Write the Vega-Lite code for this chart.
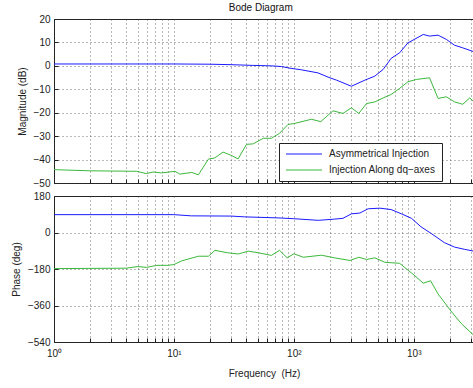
{
  "$schema": "https://vega.github.io/schema/vega-lite/v6.json",
  "padding": {"left": 10, "top": 2, "right": 0, "bottom": 0},
  "background": "white",
  "title": {"text": "Bode Diagram", "fontSize": 10, "fontWeight": "normal", "font": "Liberation Sans", "color": "#111", "anchor": "middle", "offset": 1, "dx": 18},
  "spacing": 1,
  "datasets": {
    "mag": [
      {"f": 1, "v": 0.8, "s": "Asymmetrical Injection"},
      {"f": 10, "v": 0.8, "s": "Asymmetrical Injection"},
      {"f": 20, "v": 0.7, "s": "Asymmetrical Injection"},
      {"f": 30, "v": 0.5, "s": "Asymmetrical Injection"},
      {"f": 45, "v": 0.2, "s": "Asymmetrical Injection"},
      {"f": 65, "v": 0, "s": "Asymmetrical Injection"},
      {"f": 79, "v": -0.3, "s": "Asymmetrical Injection"},
      {"f": 93, "v": -1.0, "s": "Asymmetrical Injection"},
      {"f": 116, "v": -1.7, "s": "Asymmetrical Injection"},
      {"f": 159, "v": -3.0, "s": "Asymmetrical Injection"},
      {"f": 193, "v": -4.8, "s": "Asymmetrical Injection"},
      {"f": 227, "v": -6.1, "s": "Asymmetrical Injection"},
      {"f": 302, "v": -8.7, "s": "Asymmetrical Injection"},
      {"f": 391, "v": -6.1, "s": "Asymmetrical Injection"},
      {"f": 473, "v": -4.4, "s": "Asymmetrical Injection"},
      {"f": 556, "v": -1.5, "s": "Asymmetrical Injection"},
      {"f": 648, "v": 3.2, "s": "Asymmetrical Injection"},
      {"f": 763, "v": 5.6, "s": "Asymmetrical Injection"},
      {"f": 894, "v": 9.8, "s": "Asymmetrical Injection"},
      {"f": 1200, "v": 13.4, "s": "Asymmetrical Injection"},
      {"f": 1354, "v": 12.7, "s": "Asymmetrical Injection"},
      {"f": 1595, "v": 13.1, "s": "Asymmetrical Injection"},
      {"f": 1870, "v": 11.3, "s": "Asymmetrical Injection"},
      {"f": 2190, "v": 8.8, "s": "Asymmetrical Injection"},
      {"f": 2560, "v": 7.7, "s": "Asymmetrical Injection"},
      {"f": 3180, "v": 6.0, "s": "Asymmetrical Injection"},
      {"f": 1, "v": -44.3, "s": "Injection Along dq−axes"},
      {"f": 2, "v": -44.8, "s": "Injection Along dq−axes"},
      {"f": 4.9, "v": -45.0, "s": "Injection Along dq−axes"},
      {"f": 5.9, "v": -46.0, "s": "Injection Along dq−axes"},
      {"f": 6.7, "v": -45.3, "s": "Injection Along dq−axes"},
      {"f": 7.9, "v": -45.7, "s": "Injection Along dq−axes"},
      {"f": 10.2, "v": -45.0, "s": "Injection Along dq−axes"},
      {"f": 11.2, "v": -46.2, "s": "Injection Along dq−axes"},
      {"f": 14.1, "v": -45.5, "s": "Injection Along dq−axes"},
      {"f": 16, "v": -46.5, "s": "Injection Along dq−axes"},
      {"f": 19.4, "v": -39.8, "s": "Injection Along dq−axes"},
      {"f": 21.9, "v": -39.3, "s": "Injection Along dq−axes"},
      {"f": 25.7, "v": -36.8, "s": "Injection Along dq−axes"},
      {"f": 30.3, "v": -38.3, "s": "Injection Along dq−axes"},
      {"f": 34.3, "v": -39.7, "s": "Injection Along dq−axes"},
      {"f": 40.3, "v": -33.5, "s": "Injection Along dq−axes"},
      {"f": 45.8, "v": -33.3, "s": "Injection Along dq−axes"},
      {"f": 55.6, "v": -30.9, "s": "Injection Along dq−axes"},
      {"f": 65, "v": -30.9, "s": "Injection Along dq−axes"},
      {"f": 76, "v": -28.8, "s": "Injection Along dq−axes"},
      {"f": 89.5, "v": -25.0, "s": "Injection Along dq−axes"},
      {"f": 101, "v": -24.6, "s": "Injection Along dq−axes"},
      {"f": 140, "v": -22.8, "s": "Injection Along dq−axes"},
      {"f": 168, "v": -23.8, "s": "Injection Along dq−axes"},
      {"f": 212, "v": -19.2, "s": "Injection Along dq−axes"},
      {"f": 257, "v": -20.3, "s": "Injection Along dq−axes"},
      {"f": 302, "v": -17.9, "s": "Injection Along dq−axes"},
      {"f": 348, "v": -20.3, "s": "Injection Along dq−axes"},
      {"f": 404, "v": -16.1, "s": "Injection Along dq−axes"},
      {"f": 473, "v": -15.4, "s": "Injection Along dq−axes"},
      {"f": 556, "v": -13.7, "s": "Injection Along dq−axes"},
      {"f": 648, "v": -12.2, "s": "Injection Along dq−axes"},
      {"f": 763, "v": -9.6, "s": "Injection Along dq−axes"},
      {"f": 894, "v": -6.8, "s": "Injection Along dq−axes"},
      {"f": 1050, "v": -5.8, "s": "Injection Along dq−axes"},
      {"f": 1354, "v": -5.1, "s": "Injection Along dq−axes"},
      {"f": 1595, "v": -13.9, "s": "Injection Along dq−axes"},
      {"f": 1870, "v": -13.2, "s": "Injection Along dq−axes"},
      {"f": 2190, "v": -15.4, "s": "Injection Along dq−axes"},
      {"f": 2560, "v": -16.4, "s": "Injection Along dq−axes"},
      {"f": 2930, "v": -13.7, "s": "Injection Along dq−axes"},
      {"f": 3180, "v": -15.4, "s": "Injection Along dq−axes"}
    ],
    "ph": [
      {"f": 1, "v": 88, "s": "Asymmetrical Injection"},
      {"f": 10, "v": 88, "s": "Asymmetrical Injection"},
      {"f": 14, "v": 82, "s": "Asymmetrical Injection"},
      {"f": 30, "v": 81, "s": "Asymmetrical Injection"},
      {"f": 39, "v": 77, "s": "Asymmetrical Injection"},
      {"f": 74, "v": 72, "s": "Asymmetrical Injection"},
      {"f": 100, "v": 68, "s": "Asymmetrical Injection"},
      {"f": 160, "v": 60, "s": "Asymmetrical Injection"},
      {"f": 219, "v": 66, "s": "Asymmetrical Injection"},
      {"f": 257, "v": 70, "s": "Asymmetrical Injection"},
      {"f": 302, "v": 92, "s": "Asymmetrical Injection"},
      {"f": 355, "v": 96, "s": "Asymmetrical Injection"},
      {"f": 417, "v": 117, "s": "Asymmetrical Injection"},
      {"f": 523, "v": 120, "s": "Asymmetrical Injection"},
      {"f": 648, "v": 113, "s": "Asymmetrical Injection"},
      {"f": 790, "v": 92, "s": "Asymmetrical Injection"},
      {"f": 957, "v": 70, "s": "Asymmetrical Injection"},
      {"f": 1150, "v": 28, "s": "Asymmetrical Injection"},
      {"f": 1400, "v": -5, "s": "Asymmetrical Injection"},
      {"f": 1800, "v": -50, "s": "Asymmetrical Injection"},
      {"f": 2190, "v": -72, "s": "Asymmetrical Injection"},
      {"f": 2650, "v": -83, "s": "Asymmetrical Injection"},
      {"f": 3180, "v": -92, "s": "Asymmetrical Injection"},
      {"f": 1, "v": -178, "s": "Injection Along dq−axes"},
      {"f": 4, "v": -176, "s": "Injection Along dq−axes"},
      {"f": 5, "v": -168, "s": "Injection Along dq−axes"},
      {"f": 5.9, "v": -172, "s": "Injection Along dq−axes"},
      {"f": 7.2, "v": -162, "s": "Injection Along dq−axes"},
      {"f": 8.9, "v": -162, "s": "Injection Along dq−axes"},
      {"f": 10, "v": -158, "s": "Injection Along dq−axes"},
      {"f": 11.6, "v": -140, "s": "Injection Along dq−axes"},
      {"f": 16, "v": -117, "s": "Injection Along dq−axes"},
      {"f": 19.4, "v": -117, "s": "Injection Along dq−axes"},
      {"f": 22, "v": -88, "s": "Injection Along dq−axes"},
      {"f": 28, "v": -100, "s": "Injection Along dq−axes"},
      {"f": 34.4, "v": -106, "s": "Injection Along dq−axes"},
      {"f": 41.7, "v": -92, "s": "Injection Along dq−axes"},
      {"f": 50.4, "v": -100, "s": "Injection Along dq−axes"},
      {"f": 65, "v": -113, "s": "Injection Along dq−axes"},
      {"f": 76, "v": -88, "s": "Injection Along dq−axes"},
      {"f": 88, "v": -125, "s": "Injection Along dq−axes"},
      {"f": 100, "v": -105, "s": "Injection Along dq−axes"},
      {"f": 120, "v": -122, "s": "Injection Along dq−axes"},
      {"f": 170, "v": -112, "s": "Injection Along dq−axes"},
      {"f": 219, "v": -125, "s": "Injection Along dq−axes"},
      {"f": 294, "v": -138, "s": "Injection Along dq−axes"},
      {"f": 348, "v": -122, "s": "Injection Along dq−axes"},
      {"f": 404, "v": -133, "s": "Injection Along dq−axes"},
      {"f": 473, "v": -125, "s": "Injection Along dq−axes"},
      {"f": 575, "v": -147, "s": "Injection Along dq−axes"},
      {"f": 763, "v": -152, "s": "Injection Along dq−axes"},
      {"f": 983, "v": -205, "s": "Injection Along dq−axes"},
      {"f": 1200, "v": -250, "s": "Injection Along dq−axes"},
      {"f": 1380, "v": -238, "s": "Injection Along dq−axes"},
      {"f": 1595, "v": -303, "s": "Injection Along dq−axes"},
      {"f": 2040, "v": -387, "s": "Injection Along dq−axes"},
      {"f": 2500, "v": -450, "s": "Injection Along dq−axes"},
      {"f": 3180, "v": -508, "s": "Injection Along dq−axes"}
    ]
  },
  "vconcat": [
    {
      "width": 420,
      "height": 164,
      "data": {"name": "mag"},
      "mark": {"type": "line", "strokeWidth": 1, "clip": true},
      "encoding": {
        "x": {"field": "f", "type": "quantitative",
          "scale": {"type": "log", "domain": [1, 3180], "nice": false},
          "axis": {"values": [1,2,3,4,5,6,7,8,9,10,20,30,40,50,60,70,80,90,100,200,300,400,500,600,700,800,900,1000,2000,3000], "labels": false, "title": null}},
        "y": {"field": "v", "type": "quantitative",
          "scale": {"domain": [-50, 20], "nice": false, "zero": false},
          "axis": {"values": [-50,-40,-30,-20,-10,0,10,20], "title": "Magnitude (dB)"}},
        "color": {"field": "s", "type": "nominal",
          "scale": {"domain": ["Asymmetrical Injection", "Injection Along dq−axes"], "range": ["#1a1aff", "#3cb83c"]},
          "legend": {"orient": "none", "legendX": 225, "legendY": 124, "title": null}}
      }
    },
    {
      "width": 420,
      "height": 146,
      "data": {"name": "ph"},
      "mark": {"type": "line", "strokeWidth": 1, "clip": true},
      "encoding": {
        "x": {"field": "f", "type": "quantitative",
          "scale": {"type": "log", "domain": [1, 3180], "nice": false},
          "axis": {"values": [1,2,3,4,5,6,7,8,9,10,20,30,40,50,60,70,80,90,100,200,300,400,500,600,700,800,900,1000,2000,3000],
            "labelExpr": "datum.value == 1 ? '10⁰' : datum.value == 10 ? '10¹' : datum.value == 100 ? '10²' : datum.value == 1000 ? '10³' : ''",
            "title": "Frequency \u00a0(Hz)", "labelOverlap": false, "labelFlush": false, "labelPadding": 10, "titlePadding": 10}},
        "y": {"field": "v", "type": "quantitative",
          "scale": {"domain": [-540, 180], "nice": false, "zero": false},
          "axis": {"values": [-540,-360,-180,0,180], "title": "Phase (deg)"}},
        "color": {"field": "s", "type": "nominal",
          "scale": {"domain": ["Asymmetrical Injection", "Injection Along dq−axes"], "range": ["#1a1aff", "#3cb83c"]},
          "legend": {"orient": "none", "legendX": 225, "legendY": 124, "title": null}}
      }
    }
  ],
  "config": {
    "font": "Liberation Sans",
    "view": {"stroke": "#222", "strokeWidth": 1},
    "axis": {"labelFontSize": 10, "titleFontSize": 10, "titleFontWeight": "normal", "labelColor": "#222", "titleColor": "#222",
      "domain": false, "grid": true, "gridColor": "#333", "gridDash": [1, 3], "gridWidth": 1, "gridOpacity": 0.7,
      "tickColor": "#222", "tickSize": -4, "labelPadding": 8, "titlePadding": 6, "labelFlush": false, "labelOverlap": false},
    "legend": {"symbolType": "M-4,0H4", "symbolSize": 81, "symbolStrokeWidth": 1, "symbolOffset": 14, "labelFontSize": 10, "labelColor": "#222",
      "fillColor": "white", "strokeColor": "#222", "padding": 6, "rowPadding": 6, "labelOffset": 20, "labelLimit": 300,
      "labelExpr": "datum.label + '\u00a0\u00a0\u00a0\u00a0\u00a0\u00a0\u00a0\u00a0\u00a0\u00a0\u00a0\u00a0\u00a0\u00a0\u00a0'"}
  }
}
